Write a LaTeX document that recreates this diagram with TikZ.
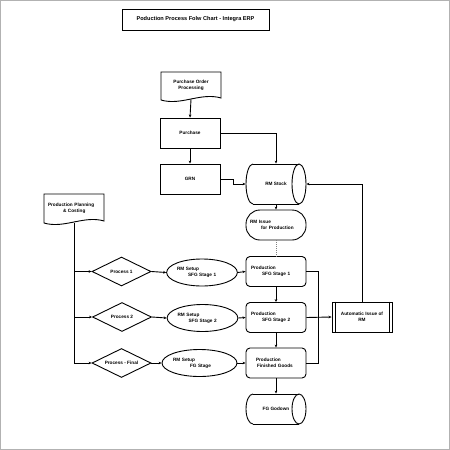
\documentclass[tikz,border=0pt]{standalone}
\usepackage{fontspec}
\setmainfont{Liberation Sans}
\usetikzlibrary{arrows.meta,shapes.geometric}
\begin{document}
\begin{tikzpicture}[x=1pt,y=-1pt,
  base/.style={font=\fontsize{4.7}{6}\selectfont\bfseries, inner sep=0pt, line width=0.9pt},
  box/.style={base, draw, rectangle, minimum width=60pt, minimum height=30pt},
  rbox/.style={box, rounded corners=4pt},
  stadium/.style={box, rounded corners=14pt},
  dia/.style={base, draw, diamond, aspect=2, minimum width=59pt, minimum height=29pt},
  ell/.style={base, draw, ellipse, minimum width=60pt, minimum height=27pt},
  shp/.style={line width=0.9pt},
  ln/.style={line width=0.9pt},
  conn/.style={line width=0.9pt, -{Stealth[length=3pt,width=2.6pt]}}
]
\useasboundingbox (0,0) rectangle (450,450);
\draw[gray!60, line width=1pt] (0.5,0.5) rectangle (449.5,449.5);

% title
\node[box, minimum width=147pt, minimum height=21pt, font=\fontsize{5.6}{7}\selectfont\bfseries] (title) at (195.5,19.5) {Poduction Process Folw Chart - Integra ERP};

% purchase order processing (document)
\draw[shp] (161,72) -- (221,72) -- (221,98) .. controls (201,92) and (181,106) .. (161,100) -- cycle;
\node[base, minimum width=60pt, minimum height=28pt, align=center] (po) at (191,85) {Purchase Order\\Processing};

\node[box] (pur) at (190,133) {Purchase};
\node[box] (grn) at (190,179) {GRN};

% RM stock cylinder
\draw[shp] (253,164) -- (299,164) (253,204) -- (299,204);
\draw[shp] (299,184) ellipse [x radius=7pt, y radius=20pt];
\draw[shp] (253,164) arc[start angle=90, end angle=270, x radius=7pt, y radius=20pt];
\node[base, minimum width=60pt, minimum height=40pt] (rm) at (276,184) {RM Stock};

\node[stadium, text width=52pt, align=left] (iss) at (276,225) {RM Issue\\\hspace{11pt}for Production};

% production boxes
\node[rbox, text width=50pt, align=left] (p1) at (276,271.5) {Production\\\hspace{11pt}SFG Stage 1};
\node[rbox, text width=50pt, align=left] (p2) at (276,317.5) {Production\\\hspace{11pt}SFG Stage 2};
\node[rbox, text width=50pt, align=left] (pf) at (276,363) {\hspace{5pt}Production\\\hspace{6pt}Finished Goods};

% FG godown cylinder
\draw[shp] (253,394) -- (299,394) (253,424) -- (299,424);
\draw[shp] (299,409) ellipse [x radius=7pt, y radius=15pt];
\draw[shp] (253,394) arc[start angle=90, end angle=270, x radius=7pt, y radius=15pt];
\node[base, minimum width=60pt, minimum height=30pt] (fg) at (276,409) {FG Godown};

% automatic issue (predefined process)
\node[box, align=center] (auto) at (362,317) {Automatic Issue of\\RM};
\draw[ln] ([xshift=3.5pt]auto.north west) -- ([xshift=3.5pt]auto.south west);
\draw[ln] ([xshift=-3.5pt]auto.north east) -- ([xshift=-3.5pt]auto.south east);

% production planning & costing (document)
\draw[shp] (44,194) -- (104,194) -- (104,221) .. controls (84,215) and (64,229) .. (44,223) -- cycle;
\node[base, minimum width=60pt, minimum height=29pt, text width=52pt, align=left] (ppc) at (74,208.5) {Production Planning\\\hspace{15pt}\& Costing};

% diamonds
\node[dia] (d1) at (121.5,271.5) {Process 1};
\node[dia] (d2) at (122,317) {Process 2};
\node[dia] (d3) at (121.5,363) {Process - Final};

% ellipses
\node[ell, text width=50pt, align=left] (e1) at (202,272.5) {RM Setup\\\hspace{11pt}SFG Stage 1};
\node[ell, text width=50pt, align=left] (e2) at (202.5,318) {RM Setup\\\hspace{11pt}SFG Stage 2};
\node[ell, text width=53pt, align=left] (e3) at (199.5,363) {RM Setup\\\hspace{17pt}FG Stage};

% connectors
\draw[conn] (po.south) -- (pur.north);
\draw[conn] (pur.south) -- (grn.north);
\draw[conn] (pur.east) -| (rm.north);
\draw[conn] (grn.east) -- ++(13,0) |- (rm.west);
\draw[conn] (rm.south) -- (iss.north);
\draw[ln, gray, densely dotted] (iss.south) -- (p1.north);
\draw[conn] (p1.south) -- (p2.north);
\draw[conn] (p2.south) -- (pf.north);
\draw[conn] (pf.south) -- (fg.north);
\draw[ln] (p1.east) -- ++(12,0) |- (pf.east);
\draw[conn] (p2.east) -- (auto.west);
\draw[conn] (auto.north) |- (rm.east);

\draw[conn] (ppc.south) |- (d3.west);
\draw[conn] (ppc.south |- d1.west) -- (d1.west);
\draw[conn] (ppc.south |- d2.west) -- (d2.west);

\draw[conn] (d1.east) -- (e1.west);
\draw[conn] (d2.east) -- (e2.west);
\draw[conn] (d3.east) -- (e3.west);
\draw[conn] (e1.east) -- (p1.west);
\draw[conn] (e2.east) -- (p2.west);
\draw[conn] (e3.east) -- (pf.west);
\end{tikzpicture}
\end{document}
